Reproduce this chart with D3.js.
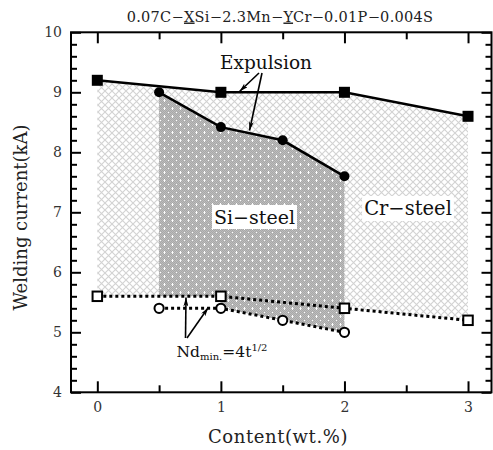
<!DOCTYPE html>
<html>
<head>
<meta charset="utf-8">
<script src="https://cdn.jsdelivr.net/npm/d3@7"></script>
<style>
  html, body { margin: 0; padding: 0; background: #fff; }
  svg { display: block; }
  text { font-family: "DejaVu Serif", "Liberation Serif", serif; }
</style>
</head>
<body>
<svg id="chart" width="493" height="450"></svg>
<script>
// Cr-added steels (squares) and Si-added steels (circles)
const contentCr = [0, 1, 2, 3];
const expulsionCr = [9.2, 9.0, 9.0, 8.6];
const ndMinCr = [5.6, 5.6, 5.4, 5.2];

const contentSi = [0.5, 1, 1.5, 2];
const expulsionSi = [9.0, 8.42, 8.2, 7.6];
const ndMinSi = [5.4, 5.4, 5.2, 5.0];

const xTickValues = [0, 1, 2, 3];
const xMinorValues = [0.5, 1.5, 2.5];
const yTickValues = [4, 5, 6, 7, 8, 9, 10];
const yMinorValues = d3.range(4.2, 10, 0.2).filter(v => Math.abs(v - Math.round(v)) > 0.05);

const svg = d3.select("#chart");
const plotLeft = 71, plotRight = 491.5, plotTop = 32.3, plotBottom = 392.3;

const x = d3.scaleLinear().domain([-0.213, 3.19]).range([plotLeft, plotRight]);
const y = d3.scaleLinear().domain([4, 10]).range([plotBottom, plotTop]);

// ---- fill patterns ----
const defs = svg.append("defs");
const hatch = defs.append("pattern").attr("id", "crHatch")
  .attr("patternUnits", "userSpaceOnUse").attr("width", 7).attr("height", 7);
hatch.append("rect").attr("width", 7).attr("height", 7).attr("fill", "#fff");
hatch.append("path").attr("d", "M0,0L7,7M7,0L0,7")
  .attr("stroke", "#d2d2d2").attr("stroke-width", 1.1).attr("fill", "none");

const dots = defs.append("pattern").attr("id", "siDots")
  .attr("patternUnits", "userSpaceOnUse").attr("width", 8).attr("height", 8);
dots.append("rect").attr("width", 8).attr("height", 8).attr("fill", "#bcbcbc");
for (let i = 0; i < 8; i++) {
  for (let j = 0; j < 8; j++) {
    if ((i + j) % 2 === 0) {
      dots.append("rect").attr("x", i).attr("y", j).attr("width", 1).attr("height", 1)
        .attr("fill", "#a8a8a8");
    }
  }
}
dots.append("path").attr("d", "M4,3.5h1M3.5,4.5h2M4,5.5h1M0,0.5h1")
  .attr("stroke", "#ffffff").attr("stroke-width", 1);

defs.append("marker").attr("id", "arrowHead")
  .attr("viewBox", "0 -2.5 9 5")
  .attr("refX", 9).attr("refY", 0)
  .attr("markerUnits", "userSpaceOnUse")
  .attr("markerWidth", 9).attr("markerHeight", 5)
  .attr("orient", "auto")
  .append("path").attr("d", "M0,-2.5L9,0L0,2.5L2.5,0Z").attr("fill", "#000");

// ---- shaded regions ----
const crUpper = contentCr.map((c, i) => [c, expulsionCr[i]]);
const crLower = contentCr.map((c, i) => [c, ndMinCr[i]]).reverse();
const area = d3.line().x(d => x(d[0])).y(d => y(d[1]));

svg.append("path").attr("d", area(crUpper.concat(crLower)) + "Z")
  .attr("fill", "url(#crHatch)");

// Si window: from expulsion line down to the lower weld-size boundary
const ndCrAt = d3.scaleLinear().domain(contentCr).range(ndMinCr);
const siUpper = contentSi.map((c, i) => [c, expulsionSi[i]]);
const siLower = [[contentSi[0], ndCrAt(contentSi[0])], [contentSi[1], ndCrAt(contentSi[1])]]
  .concat(contentSi.slice(1).map((c, i) => [c, ndMinSi[i + 1]]))
  .reverse();
svg.append("path").attr("d", area(siUpper.concat(siLower)) + "Z")
  .attr("fill", "url(#siDots)");

// ---- region labels on white boxes ----
function boxedLabel(cx, baseline, txt, size) {
  const g = svg.append("g");
  const t = g.append("text").attr("x", cx).attr("y", baseline)
    .attr("text-anchor", "middle").attr("font-size", size).attr("fill", "#111").text(txt);
  const bb = t.node().getBBox();
  g.insert("rect", "text").attr("x", bb.x - 2).attr("y", bb.y - 1)
    .attr("width", bb.width + 4).attr("height", bb.height + 2).attr("fill", "#fff");
}
boxedLabel(254.5, 224, "Si\u2212steel", 19);
boxedLabel(408, 215, "Cr\u2212steel", 19.5);

// ---- lines ----
const line = d3.line().x(d => x(d[0])).y(d => y(d[1]));
svg.append("path").attr("d", line(crUpper)).attr("fill", "none")
  .attr("stroke", "#000").attr("stroke-width", 2.5);
svg.append("path").attr("d", line(siUpper)).attr("fill", "none")
  .attr("stroke", "#000").attr("stroke-width", 2.5);

const ndCr = contentCr.map((c, i) => [c, ndMinCr[i]]);
const ndSi = contentSi.map((c, i) => [c, ndMinSi[i]]);
[ndCr, ndSi].forEach(pts => {
  svg.append("path").attr("d", line(pts)).attr("fill", "none")
    .attr("stroke", "#000").attr("stroke-width", 3).attr("stroke-dasharray", "3,3");
});

// ---- markers ----
const sq = 11;
svg.selectAll(".expCr").data(crUpper).join("rect")
  .attr("x", d => x(d[0]) - sq / 2).attr("y", d => y(d[1]) - sq / 2)
  .attr("width", sq).attr("height", sq).attr("fill", "#000");
svg.selectAll(".expSi").data(siUpper).join("circle")
  .attr("cx", d => x(d[0])).attr("cy", d => y(d[1])).attr("r", 5).attr("fill", "#000");
const osq = 9.5;
svg.selectAll(".ndCr").data(ndCr).join("rect")
  .attr("x", d => x(d[0]) - osq / 2).attr("y", d => y(d[1]) - osq / 2)
  .attr("width", osq).attr("height", osq).attr("fill", "#fff")
  .attr("stroke", "#000").attr("stroke-width", 2);
svg.selectAll(".ndSi").data(ndSi).join("circle")
  .attr("cx", d => x(d[0])).attr("cy", d => y(d[1])).attr("r", 4.6)
  .attr("fill", "#fff").attr("stroke", "#000").attr("stroke-width", 2);

// ---- axes: inward ticks on all four sides ----
function styleAxis(g) {
  g.select(".domain").remove();
  g.selectAll(".tick line").attr("stroke", "#000").attr("stroke-width", 2);
  g.selectAll(".tick text").attr("fill", "#333").attr("font-size", 14)
    .attr("font-family", "DejaVu Serif, serif");
}
svg.append("g").attr("transform", `translate(0,${plotBottom})`)
  .call(d3.axisBottom(x).tickValues(xTickValues).tickFormat(d3.format("d"))
    .tickSizeInner(-11).tickSizeOuter(0).tickPadding(10)).call(styleAxis);
svg.append("g").attr("transform", `translate(0,${plotBottom})`)
  .call(d3.axisBottom(x).tickValues(xMinorValues).tickFormat("")
    .tickSizeInner(-7).tickSizeOuter(0)).call(styleAxis);
svg.append("g").attr("transform", `translate(0,${plotTop})`)
  .call(d3.axisTop(x).tickValues(xTickValues).tickFormat("")
    .tickSizeInner(-11).tickSizeOuter(0)).call(styleAxis);
svg.append("g").attr("transform", `translate(0,${plotTop})`)
  .call(d3.axisTop(x).tickValues(xMinorValues).tickFormat("")
    .tickSizeInner(-7).tickSizeOuter(0)).call(styleAxis);

svg.append("g").attr("transform", `translate(${plotLeft},0)`)
  .call(d3.axisLeft(y).tickValues(yTickValues).tickFormat(d3.format("d"))
    .tickSizeInner(-10).tickSizeOuter(0).tickPadding(9)).call(styleAxis);
svg.append("g").attr("transform", `translate(${plotLeft},0)`)
  .call(d3.axisLeft(y).tickValues(yMinorValues).tickFormat("")
    .tickSizeInner(-6).tickSizeOuter(0)).call(styleAxis);
svg.append("g").attr("transform", `translate(${plotRight},0)`)
  .call(d3.axisRight(y).tickValues(yTickValues).tickFormat("")
    .tickSizeInner(-10).tickSizeOuter(0)).call(styleAxis);
svg.append("g").attr("transform", `translate(${plotRight},0)`)
  .call(d3.axisRight(y).tickValues(yMinorValues).tickFormat("")
    .tickSizeInner(-6).tickSizeOuter(0)).call(styleAxis);

svg.append("rect").attr("x", plotLeft).attr("y", plotTop)
  .attr("width", plotRight - plotLeft).attr("height", plotBottom - plotTop)
  .attr("fill", "none").attr("stroke", "#000").attr("stroke-width", 2);

// ---- titles ----
const title = svg.append("text").attr("x", 280).attr("y", 21.5)
  .attr("text-anchor", "middle").attr("font-size", 14.5).attr("fill", "#222")
  .attr("letter-spacing", 0.3);
title.append("tspan").text("0.07C\u2212");
title.append("tspan").attr("text-decoration", "underline").text("X");
title.append("tspan").text("Si\u22122.3Mn\u2212");
title.append("tspan").attr("text-decoration", "underline").text("Y");
title.append("tspan").text("Cr\u22120.01P\u22120.004S");

svg.append("text").attr("x", 278).attr("y", 443)
  .attr("text-anchor", "middle").attr("font-size", 18).attr("fill", "#222")
  .attr("letter-spacing", 0.6).text("Content(wt.%)");

svg.append("text").attr("transform", "translate(27,217.5) rotate(-90)")
  .attr("text-anchor", "middle").attr("font-size", 18).attr("fill", "#222")
  .text("Welding current(kA)");

// ---- annotations ----
svg.append("text").attr("x", 266).attr("y", 69.3)
  .attr("text-anchor", "middle").attr("font-size", 18.5).attr("fill", "#111")
  .text("Expulsion");
[[259, 73, 239.5, 91.5], [262, 73, 249.5, 130.5]].forEach(([x1, y1, x2, y2]) => {
  svg.append("line").attr("x1", x1).attr("y1", y1).attr("x2", x2).attr("y2", y2)
    .attr("stroke", "#000").attr("stroke-width", 1.6).attr("marker-end", "url(#arrowHead)");
});

[[185.5, 338, 186, 297.5], [187, 338, 208.3, 307.5]].forEach(([x1, y1, x2, y2]) => {
  svg.append("line").attr("x1", x1).attr("y1", y1).attr("x2", x2).attr("y2", y2)
    .attr("stroke", "#000").attr("stroke-width", 1.6).attr("marker-end", "url(#arrowHead)");
});
const nd = svg.append("text").attr("x", 176.5).attr("y", 357.3)
  .attr("font-size", 15.5).attr("fill", "#111");
nd.append("tspan").text("Nd");
nd.append("tspan").attr("font-size", 10).attr("dy", 3).text("min.");
nd.append("tspan").attr("dy", -3).text("=4t");
nd.append("tspan").attr("font-size", 10).attr("dy", -6).text("1/2");
</script>
</body>
</html>
